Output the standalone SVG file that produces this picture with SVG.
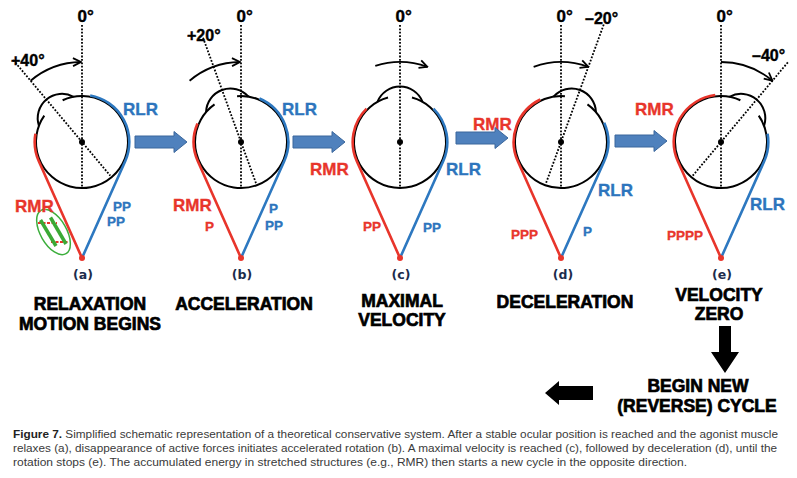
<svg xmlns="http://www.w3.org/2000/svg" width="797" height="478" viewBox="0 0 797 478">
<defs>
<marker id="chev" viewBox="0 0 10 10" refX="9" refY="5" markerWidth="10" markerHeight="10" markerUnits="userSpaceOnUse" orient="auto">
<path d="M1,1 L9,5 L1,9" fill="none" stroke="#000" stroke-width="1.8"/>
</marker>
<style>
.eye{fill:none;stroke:#000;stroke-width:2}
.dot{fill:none;stroke:#000;stroke-width:1.8;stroke-dasharray:1.8 1.6}
.mot{fill:none;stroke:#000;stroke-width:1.8;marker-end:url(#chev)}
.rm{fill:none;stroke:#e8352b;stroke-width:2.6}
.lr{fill:none;stroke:#2d78c0;stroke-width:2.6}
.apex{fill:#e8352b}
.cen{fill:#000}
.lbl{font-family:"Liberation Sans",Arial,sans-serif;font-weight:bold}
.red{fill:#e8352b;stroke:#e8352b;stroke-width:0.35}
.blue{fill:#2d75bd;stroke:#2d75bd;stroke-width:0.35}
.deg{font-size:17px;fill:#000;stroke:#000;stroke-width:0.4}
.sdeg{font-size:16px;fill:#000;stroke:#000;stroke-width:0.4}
.m{font-size:17px}
.p{font-size:13.5px}
.pl{font-family:"DejaVu Sans",sans-serif;font-weight:bold;font-size:12.5px;fill:#1d2c4c;text-anchor:middle}
.big{font-family:"Liberation Sans",Arial,sans-serif;font-weight:bold;font-size:17.5px;fill:#000;stroke:#000;stroke-width:0.7;text-anchor:middle}
.barrow{fill:#4f81bd;stroke:#3b679c;stroke-width:1}
.karrow{fill:#000}
.cap{font-family:"Liberation Sans",Arial,sans-serif;font-size:11.5px;fill:#3a3a3a}
</style>
</defs>
<rect width="797" height="478" fill="#fff"/>

<g id="eye-a">
<line class="dot" x1="82" y1="25" x2="82" y2="188"/>
<line class="dot" x1="13.22" y1="60.03" x2="110.28" y2="175.7"/>
<path class="mot" d="M30.58,80.72 A80,80 0 0 1 81,62"/>
<path class="eye" d="M62.63,100.28 A46,46 0 1 1 44.28,115.67"/>
<path class="eye" d="M38.94,125.82 A24.3,24.3 0 0 1 73.54,96.79"/>
<path class="rm" d="M35.42,133.79 A47.3,47.3 0 0 0 38.81,161.29 L82,258"/>
<path class="lr" d="M90.21,95.42 A47.3,47.3 0 0 1 125.19,161.29 L82,258"/>
<circle class="cen" cx="82" cy="142" r="3"/>
<circle class="apex" cx="82" cy="258" r="3"/>
<ellipse cx="53.5" cy="232" rx="13" ry="25" transform="rotate(-30 53.5 232)" fill="none" stroke="#3cae3c" stroke-width="1.5"/>
<line x1="38" y1="223" x2="57" y2="223" stroke="#e8352b" stroke-width="2" stroke-dasharray="3 1.5"/>
<line x1="51" y1="242" x2="69" y2="242" stroke="#e8352b" stroke-width="2" stroke-dasharray="3 1.5"/>
<line x1="40.5" y1="220" x2="56" y2="246" stroke="#3aa935" stroke-width="3.5"/>
<line x1="50.5" y1="217.5" x2="66" y2="244" stroke="#3aa935" stroke-width="3.5"/>
<text class="lbl deg" x="77.5" y="22">0°</text>
<text class="lbl sdeg" x="11" y="66">+40°</text>
<text class="lbl m blue" x="123" y="115">RLR</text>
<text class="lbl m red" x="15" y="212">RMR</text>
<text class="lbl p blue" x="113" y="211">PP</text>
<text class="lbl p blue" x="107" y="226">PP</text>
<text class="pl" x="83" y="279">(a)</text>
</g>

<g id="eye-b">
<line class="dot" x1="241" y1="25" x2="241" y2="188"/>
<line class="dot" x1="203.04" y1="37.69" x2="256.05" y2="183.35"/>
<path class="mot" d="M189.58,80.72 A80,80 0 0 1 240,62"/>
<path class="eye" d="M237.07,96.17 A46,46 0 1 1 214.55,104.37"/>
<path class="eye" d="M206.07,112.06 A24.3,24.3 0 0 1 248.51,96.62"/>
<path class="rm" d="M197.46,123.52 A47.3,47.3 0 0 0 197.81,161.29 L241,258"/>
<path class="lr" d="M259.48,98.46 A47.3,47.3 0 0 1 284.19,161.29 L241,258"/>
<circle class="cen" cx="241" cy="142" r="3"/>
<circle class="apex" cx="241" cy="258" r="3"/>
<text class="lbl deg" x="236.5" y="22">0°</text>
<text class="lbl sdeg" x="187" y="41">+20°</text>
<text class="lbl m blue" x="282" y="115">RLR</text>
<text class="lbl m red" x="173" y="211">RMR</text>
<text class="lbl p red" x="205" y="231">P</text>
<text class="lbl p blue" x="269" y="213">P</text>
<text class="lbl p blue" x="265" y="230">PP</text>
<text class="pl" x="242" y="279">(b)</text>
</g>

<g id="eye-c">
<line class="dot" x1="400" y1="25" x2="400" y2="188"/>
<path class="mot" d="M375.28,65.91 A80,80 0 0 1 427.36,66.82"/>
<path class="eye" d="M411.98,97.59 A46,46 0 1 1 388.02,97.59"/>
<path class="eye" d="M377.42,101.92 A24.3,24.3 0 0 1 422.58,101.92"/>
<path class="rm" d="M366.55,108.55 A47.3,47.3 0 0 0 356.81,161.29 L400,258"/>
<path class="lr" d="M433.45,108.55 A47.3,47.3 0 0 1 443.19,161.29 L400,258"/>
<circle class="cen" cx="400" cy="142" r="3"/>
<circle class="apex" cx="400" cy="258" r="3"/>
<text class="lbl deg" x="395.5" y="22">0°</text>
<text class="lbl m red" x="310" y="175">RMR</text>
<text class="lbl m blue" x="446" y="175">RLR</text>
<text class="lbl p red" x="363" y="231">PP</text>
<text class="lbl p blue" x="423" y="232">PP</text>
<text class="pl" x="401" y="279">(c)</text>
</g>

<g id="eye-d">
<line class="dot" x1="561" y1="25" x2="561" y2="188"/>
<line class="dot" x1="603.75" y1="24.54" x2="545.95" y2="183.35"/>
<path class="mot" d="M533.64,66.82 A80,80 0 0 1 588.36,66.82"/>
<path class="eye" d="M587.45,104.37 A46,46 0 1 1 564.93,96.17"/>
<path class="eye" d="M553.49,96.62 A24.3,24.3 0 0 1 595.93,112.06"/>
<path class="rm" d="M540.26,99.49 A47.3,47.3 0 0 0 517.81,161.29 L561,258"/>
<path class="lr" d="M604.21,122.76 A47.3,47.3 0 0 1 604.19,161.29 L561,258"/>
<circle class="cen" cx="561" cy="142" r="3"/>
<circle class="apex" cx="561" cy="258" r="3"/>
<text class="lbl deg" x="556.5" y="22">0°</text>
<text class="lbl sdeg" x="585" y="24">–20°</text>
<text class="lbl m red" x="473" y="130">RMR</text>
<text class="lbl m blue" x="598" y="196">RLR</text>
<text class="lbl p red" x="511" y="239">PPP</text>
<text class="lbl p blue" x="583" y="236">P</text>
<text class="pl" x="563" y="279">(d)</text>
</g>

<g id="eye-e">
<line class="dot" x1="721" y1="25" x2="721" y2="188"/>
<line class="dot" x1="787.85" y1="62.33" x2="692.72" y2="175.7"/>
<path class="mot" d="M721,62 A80,80 0 0 1 772.42,80.72"/>
<path class="eye" d="M758.72,115.67 A46,46 0 1 1 740.37,100.28"/>
<path class="eye" d="M729.46,96.79 A24.3,24.3 0 0 1 764.06,125.82"/>
<path class="rm" d="M715.23,95.05 A47.3,47.3 0 0 0 677.81,161.29 L721,258"/>
<path class="lr" d="M767.58,133.79 A47.3,47.3 0 0 1 764.19,161.29 L721,258"/>
<circle class="cen" cx="721" cy="142" r="3"/>
<circle class="apex" cx="721" cy="258" r="3"/>
<text class="lbl deg" x="716.5" y="22">0°</text>
<text class="lbl sdeg" x="752" y="61">–40°</text>
<text class="lbl m red" x="635" y="115">RMR</text>
<text class="lbl m blue" x="750" y="210">RLR</text>
<text class="lbl p red" x="667" y="240">PPPP</text>
<text class="pl" x="722" y="279">(e)</text>
</g>

<g id="connectors">
<path class="barrow" d="M135,136 H174 V131.5 L187,142 L174,152.5 V148 H135 Z"/>
<path class="barrow" d="M293,136 H332 V131.5 L345,142 L332,152.5 V148 H293 Z"/>
<path class="barrow" d="M456,132 H495 V127.5 L508,138 L495,148.5 V144 H456 Z"/>
<path class="barrow" d="M615,135 H654 V130.5 L667,141 L654,151.5 V147 H615 Z"/>
<path class="karrow" d="M719,326 H731 V352 H739 L725,373 L711,352 H719 Z"/>
<path class="karrow" d="M593,386 V400 H559 V405 L545,393 L559,381 V386 Z"/>
</g>

<g id="stage-labels">
<text class="big" x="90" y="310">RELAXATION</text>
<text class="big" x="90" y="330">MOTION BEGINS</text>
<text class="big" x="244" y="310">ACCELERATION</text>
<text class="big" x="402" y="307">MAXIMAL</text>
<text class="big" x="402" y="326">VELOCITY</text>
<text class="big" x="565" y="308">DECELERATION</text>
<text class="big" x="719" y="301">VELOCITY</text>
<text class="big" x="719" y="320">ZERO</text>
<text class="big" x="698" y="392">BEGIN NEW</text>
<text class="big" x="697" y="412">(REVERSE) CYCLE</text>
</g>

<g id="caption">
<text class="cap" x="13" y="438" textLength="765" lengthAdjust="spacingAndGlyphs"><tspan font-weight="bold" fill="#222">Figure 7.</tspan> Simplified schematic representation of a theoretical conservative system. After a stable ocular position is reached and the agonist muscle</text>
<text class="cap" x="13" y="452" textLength="764" lengthAdjust="spacingAndGlyphs">relaxes (a), disappearance of active forces initiates accelerated rotation (b). A maximal velocity is reached (c), followed by deceleration (d), until the</text>
<text class="cap" x="13" y="466" textLength="674" lengthAdjust="spacingAndGlyphs">rotation stops (e). The accumulated energy in stretched structures (e.g., RMR) then starts a new cycle in the opposite direction.</text>
</g>
</svg>
